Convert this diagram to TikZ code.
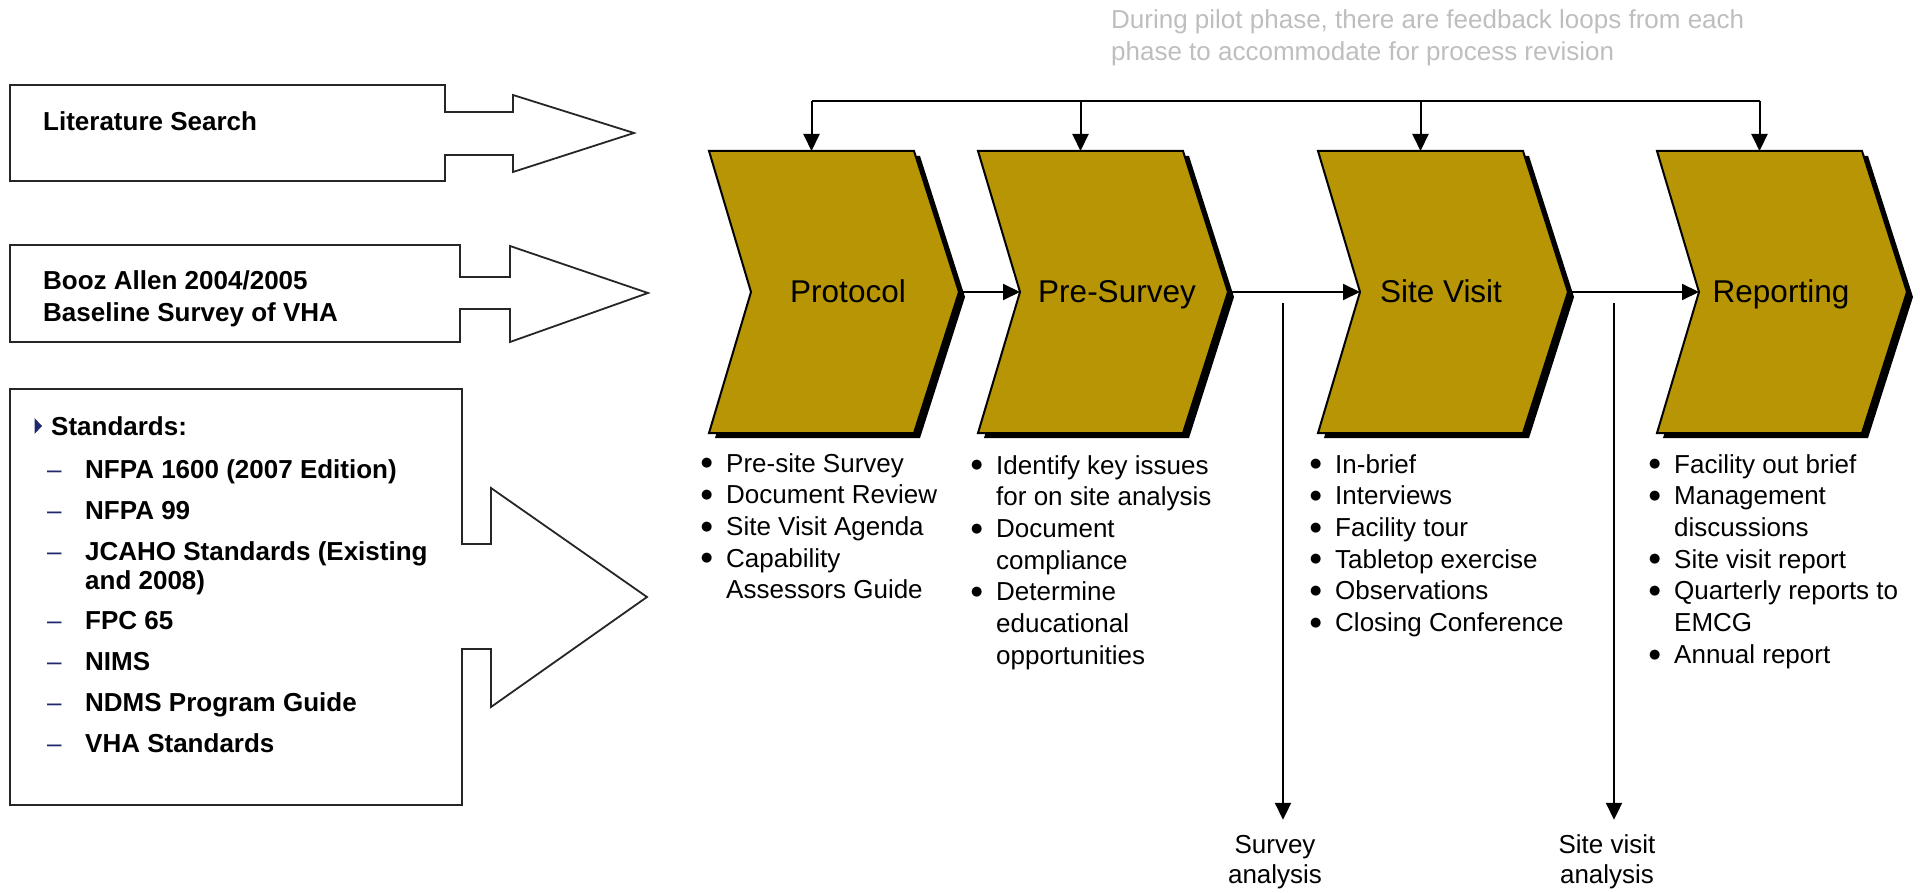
\documentclass[tikz,border=0pt]{standalone}
\usepackage{fontspec}
\setmainfont{Liberation Sans}
\newfontfamily\dejavu{DejaVu Sans}
\usetikzlibrary{arrows.meta,calc}
\definecolor{gold}{RGB}{183,149,5}
\definecolor{navy}{RGB}{31,40,110}
\definecolor{fbgray}{RGB}{190,190,190}
\newcommand\bul{\makebox[25pt][l]{\raisebox{5.2pt}{\fontsize{13}{13}\dejavu ●}}}
\newcommand\ind{\hspace*{25pt}}
\newcommand\stdash{\hspace*{12pt}\makebox[38pt][l]{\textcolor{navy}{\mdseries –}}}
\newcommand\chevronshape[4]{%
  \begin{scope}[shift={(#2,0)}]
    \fill[black,shift={(6,5)}] (0,151) -- (205,151) -- (250,292) -- (205,433) -- (0,433) -- (42,292) -- cycle;
    \filldraw[chevfill] (0,151) -- (205,151) -- (250,292) -- (205,433) -- (0,433) -- (42,292) -- cycle;
    \coordinate (#1-top) at (102.5,151);
    \coordinate (#1-tip) at (250,292);
    \coordinate (#1-in) at (42,292);
  \end{scope}
  \node[chevlabel] (#1) at (#4,303) {#3};
}
\begin{document}
\begin{tikzpicture}[x=1pt,y=-1pt,
  conn/.style={line width=2pt,draw=black},
  arr/.style={conn,-{Triangle[width=16pt,length=17pt]}},
  inbox/.style={line width=1.8pt,draw=black!85,fill=white,line join=miter},
  chevfill/.style={fill=gold,draw=black,line width=2pt,line join=miter},
  chevlabel/.style={anchor=base,inner sep=0pt,font=\fontsize{31.5}{36}\selectfont},
  listtext/.style={anchor=base west,inner sep=0pt,font=\fontsize{26}{31.7}\selectfont},
  intext/.style={anchor=base west,inner sep=0pt,font=\fontsize{26}{32}\selectfont\bfseries},
  outtext/.style={anchor=base,inner sep=0pt,font=\fontsize{26}{30}\selectfont},
  fbtext/.style={anchor=base west,inner sep=0pt,text=fbgray,font=\fontsize{26}{32}\selectfont}
]
\useasboundingbox (0,0) rectangle (1920,893);

% ---- input arrows ----
\filldraw[inbox] (10,85) -- (445,85) -- (445,112) -- (513,112) -- (513,95) -- (634,133)
  -- (513,172) -- (513,155) -- (445,155) -- (445,181) -- (10,181) -- cycle;
\node[intext] (lit) at (43,131) {Literature Search};

\filldraw[inbox] (10,245) -- (460,245) -- (460,277) -- (510,277) -- (510,246) -- (648,293)
  -- (510,342) -- (510,309) -- (460,309) -- (460,342) -- (10,342) -- cycle;
\node[intext] (booz) at (43,290) {\begin{tabular}[t]{@{}l@{}}Booz Allen 2004/2005\\Baseline Survey of VHA\end{tabular}};

\filldraw[inbox] (10,389) -- (462,389) -- (462,544) -- (491,544) -- (491,488) -- (647,597)
  -- (491,707) -- (491,649) -- (462,649) -- (462,805) -- (10,805) -- cycle;
\fill[navy] (34.5,418) -- (42,426) -- (34.5,434) -- cycle;
\node[intext,font=\fontsize{26}{29}\selectfont\bfseries] (std) at (35,435) {\begin{tabular}[t]{@{}l@{}}
\hspace*{16pt}Standards:\\[14pt]
\stdash NFPA 1600 (2007 Edition)\\[12pt]
\stdash NFPA 99\\[12pt]
\stdash JCAHO Standards (Existing\\
\hspace*{50pt}and 2008)\\[12pt]
\stdash FPC 65\\[12pt]
\stdash NIMS\\[12pt]
\stdash NDMS Program Guide\\[12pt]
\stdash VHA Standards
\end{tabular}};

% ---- chevrons ----
\chevronshape{proto}{709}{Protocol}{848}
\chevronshape{pres}{978}{Pre-Survey}{1117}
\chevronshape{site}{1318}{Site Visit}{1441}
\chevronshape{report}{1657}{Reporting}{1781}

% ---- bullet lists ----
\node[listtext] (l1) at (701,472) {\begin{tabular}[t]{@{}l@{}}
\bul Pre-site Survey\\ \bul Document Review\\ \bul Site Visit Agenda\\ \bul Capability\\ \ind Assessors Guide\end{tabular}};
\node[listtext] (l2) at (971,474) {\begin{tabular}[t]{@{}l@{}}
\bul Identify key issues\\ \ind for on site analysis\\ \bul Document\\ \ind compliance\\ \bul Determine\\ \ind educational\\ \ind opportunities\end{tabular}};
\node[listtext] (l3) at (1310,473) {\begin{tabular}[t]{@{}l@{}}
\bul In-brief\\ \bul Interviews\\ \bul Facility tour\\ \bul Tabletop exercise\\ \bul Observations\\ \bul Closing Conference\end{tabular}};
\node[listtext] (l4) at (1649,473) {\begin{tabular}[t]{@{}l@{}}
\bul Facility out brief\\ \bul Management\\ \ind discussions\\ \bul Site visit report\\ \bul Quarterly reports to\\ \ind EMCG\\ \bul Annual report\end{tabular}};

% ---- feedback loops ----
\node[fbtext] (fbnote) at (1111,29) {\begin{tabular}[t]{@{}l@{}}During pilot phase, there are feedback loops from each\\phase to accommodate for process revision\end{tabular}};
\coordinate (fb) at (0,101);
\draw[conn] (proto-top |- fb) -- (report-top |- fb);
\foreach \n in {proto,pres,site,report}{\draw[arr] (\n-top |- fb) -- (\n-top);}

% ---- flow arrows ----
\draw[arr] (proto-tip) -- (pres-in);
\draw[arr] (pres-tip) -- (site-in);
\draw[arr] (site-tip) -- (report-in);

% ---- analysis outputs ----
\node[outtext] (sa) at (1275,853) {\begin{tabular}[t]{@{}c@{}}Survey\\analysis\end{tabular}};
\node[outtext] (sva) at (1607,853) {\begin{tabular}[t]{@{}c@{}}Site visit\\analysis\end{tabular}};
\coordinate (sa-from) at (1283,303);
\coordinate (sva-from) at (1614,303);
\draw[arr,shorten >=12pt] (sa-from) -- (sa-from |- sa.north);
\draw[arr,shorten >=12pt] (sva-from) -- (sva-from |- sva.north);
\end{tikzpicture}
\end{document}
